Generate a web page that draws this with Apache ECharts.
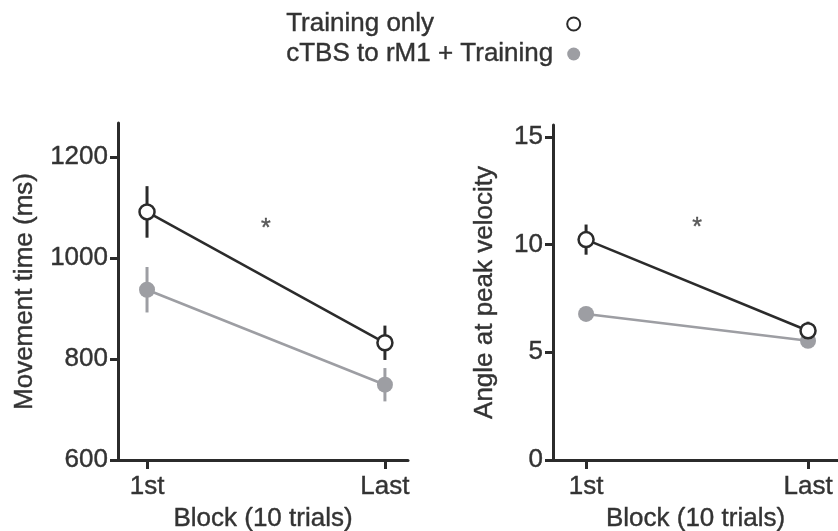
<!DOCTYPE html>
<html>
<head>
<meta charset="utf-8">
<script src="https://cdn.jsdelivr.net/npm/echarts@6/dist/echarts.min.js"></script>
<style>html,body{margin:0;padding:0;background:#fff;}#c{width:838px;height:531px;}</style>
</head>
<body>
<div id="c"></div>
<script>
// ---- data ----
const blocks = ['1st', 'Last'];
const seriesNames = ['Training only', 'cTBS to rM1 + Training'];
// Movement time (ms)
const mtTrainMean = [1091, 832];
const mtTrainErr  = [51, 34];
const mtCtbsMean  = [937, 749];
const mtCtbsErr   = [45, 33];
// Angle at peak velocity
const angTrainMean = [10.23, 6.0];
const angTrainErr  = [0.7, 0.42];
const angCtbsMean  = [6.78, 5.53];
const angCtbsErr   = [0.2, 0.2];
// tick labels
const mtTicks  = [600, 800, 1000, 1200];
const angTicks = [0, 5, 10, 15];
// significance markers [x, y]
const mtStar  = [0.5, 1057];
const angStar = [0.5, 10.75];

const DARK = '#2b2b2b';
const GRAY = '#9d9ea3';
const TXT = '#333333';
const FONT = 'Liberation Sans';
const FS = 26;
const TB = { textBorderColor: TXT, textBorderWidth: 0.4 };

function pts(means) { return means.map((v, i) => [i, v]); }
function errData(means, errs) { return means.map((v, i) => [i, v - errs[i], v + errs[i]]); }

function errSeries(idx, means, errs, color) {
  return {
    type: 'custom', xAxisIndex: idx, yAxisIndex: idx, silent: true, z: 2,
    data: errData(means, errs),
    renderItem: function (params, api) {
      const lo = api.coord([api.value(0), api.value(1)]);
      const hi = api.coord([api.value(0), api.value(2)]);
      return { type: 'line', shape: { x1: lo[0], y1: lo[1], x2: hi[0], y2: hi[1] },
               style: { stroke: color, lineWidth: 3 } };
    }
  };
}
function lineSeries(idx, name, means, color, filled, z) {
  return {
    type: 'line', name: name, xAxisIndex: idx, yAxisIndex: idx, z: z,
    data: pts(means), symbol: 'circle', symbolSize: filled ? 16 : 15,
    lineStyle: { color: color, width: 2.5 },
    itemStyle: filled ? { color: color } : { color: '#ffffff', borderColor: color, borderWidth: 2.5 }
  };
}
function starSeries(idx, p) {
  return {
    type: 'scatter', xAxisIndex: idx, yAxisIndex: idx, symbolSize: 0, silent: true,
    data: [p],
    label: Object.assign({ show: true, formatter: '*', position: 'inside', fontSize: 25, color: TXT, fontFamily: FONT }, TB)
  };
}

function xAxisCfg(idx, min, max) {
  return {
    type: 'value', gridIndex: idx, min: min, max: max,
    name: 'Block (10 trials)', nameLocation: 'middle', nameGap: 46,
    nameTextStyle: Object.assign({ fontSize: FS, color: TXT, fontFamily: FONT }, TB),
    axisLine: { show: true, onZero: false, lineStyle: { color: DARK, width: 3 } },
    axisTick: { show: true, customValues: [0, 1], length: 9, lineStyle: { color: DARK, width: 3 } },
    axisLabel: Object.assign({ customValues: [0, 1], formatter: v => blocks[Math.round(v)], fontSize: FS, color: TXT, fontFamily: FONT, margin: 14 }, TB),
    splitLine: { show: false }
  };
}
function yAxisCfg(idx, min, max, ticks, name, gap) {
  return {
    type: 'value', gridIndex: idx, min: min, max: max,
    name: name, nameLocation: 'middle', nameGap: gap, nameRotate: 90,
    nameTextStyle: Object.assign({ fontSize: FS, color: TXT, fontFamily: FONT }, TB),
    axisLine: { show: true, onZero: false, lineStyle: { color: DARK, width: 3 } },
    axisTick: { show: true, customValues: ticks, length: 8, lineStyle: { color: DARK, width: 3 } },
    axisLabel: Object.assign({ customValues: ticks, formatter: v => String(v), fontSize: FS, color: TXT, fontFamily: FONT, margin: 10 }, TB),
    splitLine: { show: false }
  };
}

const chart = echarts.init(document.getElementById('c'), null, { renderer: 'canvas' });
chart.setOption({
  animation: false,
  backgroundColor: '#ffffff',
  legend: {
    orient: 'vertical', align: 'right', left: 281, top: 4, itemGap: 0,
    itemWidth: 13, itemHeight: 13, icon: 'circle',
    data: seriesNames,
    formatter: '{a|{name}}',
    textStyle: {
      fontSize: FS, color: TXT, fontFamily: FONT, lineHeight: 30,
      rich: { a: Object.assign({ width: 276, align: 'left', fontSize: FS, color: TXT, fontFamily: FONT, lineHeight: 30 }, TB) }
    },
    selectedMode: false
  },
  grid: [
    { left: 118, right: 430, top: 123, bottom: 71, outerBoundsMode: 'none', containLabel: false },
    { left: 553, right: 0, top: 125, bottom: 71, outerBoundsMode: 'none', containLabel: false }
  ],
  xAxis: [xAxisCfg(0, -0.122, 1.097), xAxisCfg(1, -0.149, 1.135)],
  yAxis: [
    yAxisCfg(0, 600, 1267, mtTicks, 'Movement time (ms)', 80),
    yAxisCfg(1, 0, 15.55, angTicks, 'Angle at peak velocity', 55)
  ],
  series: [
    errSeries(0, mtCtbsMean, mtCtbsErr, GRAY),
    lineSeries(0, seriesNames[1], mtCtbsMean, GRAY, true, 3),
    errSeries(0, mtTrainMean, mtTrainErr, DARK),
    lineSeries(0, seriesNames[0], mtTrainMean, DARK, false, 4),
    starSeries(0, mtStar),
    errSeries(1, angCtbsMean, angCtbsErr, GRAY),
    lineSeries(1, seriesNames[1], angCtbsMean, GRAY, true, 3),
    errSeries(1, angTrainMean, angTrainErr, DARK),
    lineSeries(1, seriesNames[0], angTrainMean, DARK, false, 4),
    starSeries(1, angStar)
  ]
});
</script>
</body>
</html>
